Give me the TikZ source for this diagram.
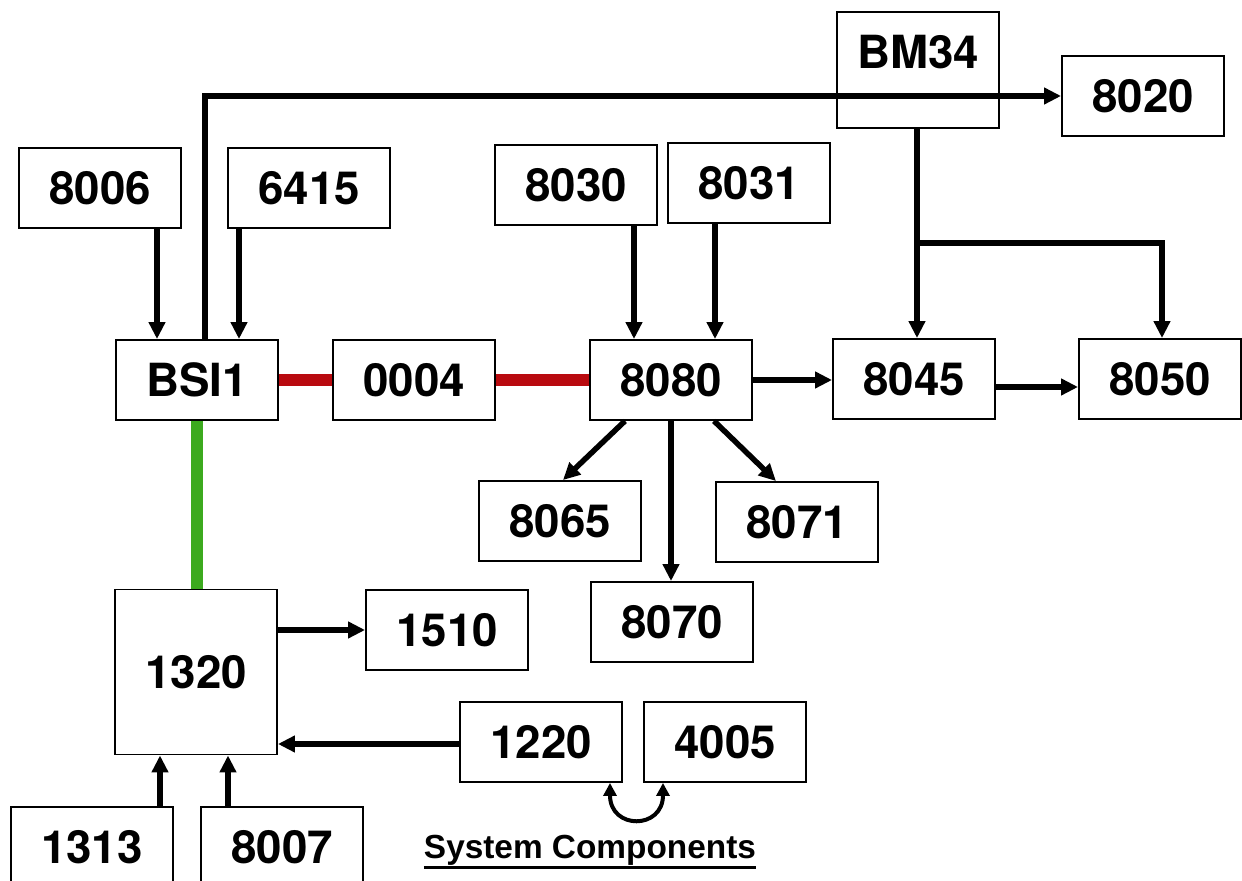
\documentclass[tikz,border=0pt]{standalone}
\usepackage{fontspec}
\setmainfont{TeX Gyre Heros}
\newfontfamily\titlefont{Liberation Sans}
\usetikzlibrary{arrows.meta}
\definecolor{rojo}{RGB}{185,10,15}
\definecolor{verde}{RGB}{60,170,30}
\newcommand{\subraya}[1]{\leavevmode\vtop{\hbox{#1}\kern0.01cm\hrule height 0.06cm}}

\begin{document}
\begin{tikzpicture}[x=0.02cm, y=-0.02cm,
    caja/.style={draw, line width=1.1pt, fill=white, minimum width=3.24cm,
        minimum height=1.6cm, inner sep=0pt, font=\fontsize{26}{30}\selectfont\bfseries},
    flecha/.style={line width=0.11cm, -{Triangle[length=0.34cm,width=0.32cm]}},
    doble/.style={line width=0.08cm, {Triangle[length=0.26cm,width=0.26cm]}-{Triangle[length=0.26cm,width=0.26cm]}},
    bus/.style={line width=0.24cm, rojo},
    enlace/.style={line width=0.24cm, verde}]
    \useasboundingbox (0,0) rectangle (1242,881);

    % Componentes
    \node[caja] (n8006) at (100,188) {8006};
    \node[caja] (n6415) at (309,188) {6415};
    \node[caja] (bsi)   at (197,380) {BSI1};
    \node[caja] (n0004) at (414,380) {0004};
    \node[caja] (n8080) at (671,380) {8080};
    \node[caja] (n8045) at (914,379) {8045};
    \node[caja] (n8050) at (1160,379) {8050};
    \node[caja, minimum height=2.32cm] (bm34) at (918,70) {\raisebox{0.72cm}{BM34}};
    \node[caja] (n8020) at (1143,96) {8020};
    \node[caja] (n8030) at (576,185) {8030};
    \node[caja] (n8031) at (749,183) {8031};
    \node[caja] (n8065) at (560,521) {8065};
    \node[caja] (n8071) at (797,522) {8071};
    \node[caja] (n8070) at (672,622) {8070};
    \node[caja, minimum height=3.3cm] (n1320) at (196,672) {1320};
    \node[caja] (n1510) at (447,630) {1510};
    \node[caja] (n1220) at (541,742) {1220};
    \node[caja] (n4005) at (725,742) {4005};
    \node[caja] (n1313) at (92,847) {1313};
    \node[caja] (n8007) at (282,847) {8007};

    % Entradas de BSI1
    \draw[flecha] (n8006.south -| 157,0) -- (bsi.north -| 157,0);
    \draw[flecha] (n6415.south -| 239,0) -- (bsi.north -| 239,0);
    \draw[flecha] (bsi.north -| 205,0) |- (n8020.west);

    % Bus rojo y enlace verde
    \draw[bus] (bsi.east) -- (n0004.west);
    \draw[bus] (n0004.east) -- (n8080.west);
    \draw[enlace] (bsi.south) -- (bsi.south |- n1320.north);

    % Alrededor de 8080
    \draw[flecha] (n8030.south -| 634,0) -- (n8080.north -| 634,0);
    \draw[flecha] (n8031.south -| 715,0) -- (n8080.north -| 715,0);
    \draw[flecha] (n8080.east) -- (n8080.east -| n8045.west);
    \draw[flecha] ([yshift=-0.16cm]n8045.east) -- ([yshift=-0.16cm]n8050.west);
    \draw[flecha] (n8080.south -| 625,0) -- (n8065.north -| 563,0);
    \draw[flecha] (n8080.south -| 671,0) -- (n8070.north -| 671,0);
    \draw[flecha] (n8080.south -| 714,0) -- (n8071.north -| 776,0);

    % Salidas de BM34
    \coordinate (rama) at (917,243);
    \draw[flecha] (bm34.south -| rama) -- (n8045.north -| rama);
    \draw[flecha] (rama) -| (n8050.north -| 1162,0);

    % Alrededor de 1320
    \draw[flecha] (n1320.east |- n1510.west) -- (n1510.west);
    \draw[flecha] (n1220.west |- 0,744) -- (n1320.east |- 0,744);
    \draw[flecha] (n1313.north -| 160,0) -- (n1320.south -| 160,0);
    \draw[flecha] (n8007.north -| 228,0) -- (n1320.south -| 228,0);
    \draw[doble] (n1220.south -| 610,0) .. controls (610,830) and (663,830) .. (n4005.south -| 663,0);

    % Titulo
    \node[font=\titlefont\fontsize{19}{24}\selectfont\bfseries, anchor=base, inner sep=0pt] (titulo) at (590,859) {\subraya{System Components}};
\end{tikzpicture}
\end{document}
